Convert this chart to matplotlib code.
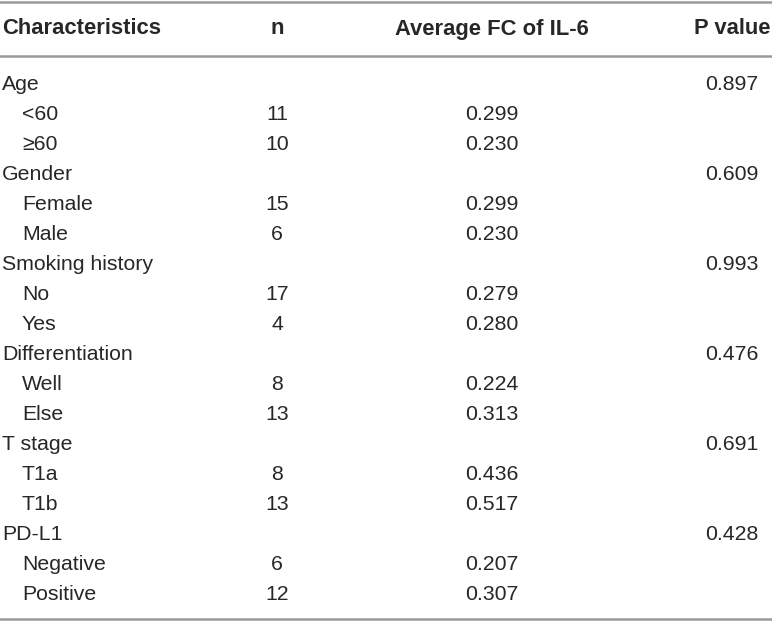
import matplotlib.pyplot as plt

# table contents
groups = ["Age", "Gender", "Smoking history", "Differentiation", "T stage", "PD-L1"]
levels = [["<60", "≥60"], ["Female", "Male"], ["No", "Yes"],
          ["Well", "Else"], ["T1a", "T1b"], ["Negative", "Positive"]]
n_vals = [[11, 10], [15, 6], [17, 4], [8, 13], [8, 13], [6, 12]]
fc_vals = [["0.299", "0.230"], ["0.299", "0.230"], ["0.279", "0.280"],
           ["0.224", "0.313"], ["0.436", "0.517"], ["0.207", "0.307"]]
p_vals = ["0.897", "0.609", "0.993", "0.476", "0.691", "0.428"]
headers = ["Characteristics", "n", "Average FC of IL-6", "P value"]

plt.rcParams['font.family'] = ['Liberation Sans', 'DejaVu Sans']

fig = plt.figure(figsize=(7.72, 6.21), dpi=100)
ax = fig.add_axes([0, 0, 1, 1])
ax.set_xlim(0, 772)
ax.set_ylim(621, 0)
ax.axis('off')

fs = 15.3
fs_head = 15.8
col_x = [2, 277, 492, 732]
txt = '#2a2627'
line_c = '#9a9a9a'

# rules
ax.plot([0, 772], [1.5, 1.5], color=line_c, lw=1.8)
ax.plot([0, 772], [56, 56], color=line_c, lw=1.8)
ax.plot([0, 772], [618.5, 618.5], color=line_c, lw=1.8)

# header
ax.text(col_x[0], 29, headers[0], ha='left', va='center', fontsize=fs_head, fontweight='bold', color=txt)
for x, h in zip(col_x[1:], headers[1:]):
    ax.text(x, 29, h, ha='center', va='center', fontsize=fs_head, fontweight='bold', color=txt)

y = 85
step = 30
for g, lv, nv, fv, p in zip(groups, levels, n_vals, fc_vals, p_vals):
    ax.text(col_x[0], y, g, ha='left', va='center', fontsize=fs, color=txt)
    ax.text(col_x[3], y, p, ha='center', va='center', fontsize=fs, color=txt)
    y += step
    for l, n, f in zip(lv, nv, fv):
        ax.text(22, y, l, ha='left', va='center', fontsize=fs, color=txt)
        ax.text(col_x[1], y, str(n), ha='center', va='center', fontsize=fs, color=txt)
        ax.text(col_x[2], y, f, ha='center', va='center', fontsize=fs, color=txt)
        y += step

fig.savefig('out.png', dpi=100)
